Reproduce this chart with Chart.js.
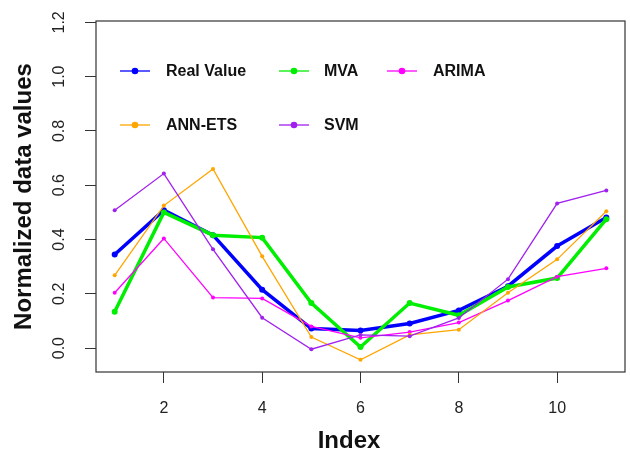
<!DOCTYPE html>
<html>
<head>
<meta charset="utf-8">
<script src="https://cdn.jsdelivr.net/npm/chart.js@4/dist/chart.umd.min.js"></script>
<style>
  html, body { margin: 0; padding: 0; background: #fff; }
  #wrap { width: 630px; height: 452px; }
</style>
</head>
<body>
<div id="wrap"><canvas id="chart"></canvas></div>
<script>
// data
const index = [1, 2, 3, 4, 5, 6, 7, 8, 9, 10, 11];
const realValue = [0.345, 0.508, 0.416, 0.215, 0.072, 0.065, 0.091, 0.139, 0.228, 0.376, 0.481];
const mva = [0.134, 0.500, 0.416, 0.407, 0.166, 0.004, 0.166, 0.121, 0.225, 0.258, 0.475];
const arima = [0.204, 0.404, 0.186, 0.183, 0.080, 0.038, 0.059, 0.094, 0.175, 0.263, 0.294];
const annEts = [0.268, 0.525, 0.660, 0.338, 0.041, -0.043, 0.049, 0.068, 0.204, 0.327, 0.504];
const svm = [0.508, 0.643, 0.364, 0.112, -0.004, 0.049, 0.044, 0.111, 0.254, 0.533, 0.581];

const xTicks = [2, 4, 6, 8, 10];
const yTicks = [0, 0.2, 0.4, 0.6, 0.8, 1.0, 1.2];
const yTickLabels = ['0.0', '0.2', '0.4', '0.6', '0.8', '1.0', '1.2'];

const FONT = '"Liberation Sans", Arial, sans-serif';
const AXIS_COL = '#333';

const series = [
    { label: 'Real Value', data: realValue, color: '#0000FF', width: 3.5, radius: 3 },
    { label: 'MVA', data: mva, color: '#00EE00', width: 3.5, radius: 3 },
    { label: 'ARIMA', data: arima, color: '#FF00FF', width: 1.3, radius: 2 },
    { label: 'ANN-ETS', data: annEts, color: '#FFA500', width: 1.3, radius: 2 },
    { label: 'SVM', data: svm, color: '#A020F0', width: 1.3, radius: 2 }
];

// legend slots (row, column) inside the plot, like R's legend(ncol=3)
const legendRows = [71, 125];
const legendCols = [{ sym: 120, text: 166 }, { sym: 279, text: 324 }, { sym: 387, text: 433 }];

const rFrame = {
    id: 'rFrame',
    afterDraw(chart) {
        const { ctx, chartArea: a, scales } = chart;
        ctx.save();
        // box around plot
        ctx.strokeStyle = AXIS_COL;
        ctx.lineWidth = 1.2;
        ctx.strokeRect(a.left, a.top, a.right - a.left, a.bottom - a.top);

        ctx.fillStyle = '#222';
        ctx.font = '16px ' + FONT;
        // x tick labels
        ctx.textAlign = 'center';
        ctx.textBaseline = 'alphabetic';
        xTicks.forEach(v => {
            ctx.fillText(String(v), scales.x.getPixelForValue(v), 413);
        });
        // y tick labels, rotated like R's default las=0
        yTicks.forEach((v, i) => {
            ctx.save();
            ctx.translate(63.5, scales.y.getPixelForValue(v));
            ctx.rotate(-Math.PI / 2);
            ctx.fillText(yTickLabels[i], 0, 0);
            ctx.restore();
        });

        // axis titles
        ctx.fillStyle = '#111';
        ctx.font = 'bold 24px ' + FONT;
        ctx.fillText('Index', 349, 448);
        ctx.save();
        ctx.translate(31, (a.top + a.bottom) / 2);
        ctx.rotate(-Math.PI / 2);
        ctx.fillText('Normalized data values', 0, 0);
        ctx.restore();

        // legend
        ctx.font = 'bold 16px ' + FONT;
        ctx.textAlign = 'left';
        ctx.textBaseline = 'middle';
        series.forEach((s, i) => {
            const y = legendRows[Math.floor(i / 3)];
            const col = legendCols[i % 3];
            ctx.strokeStyle = s.color;
            ctx.lineWidth = 1.3;
            ctx.beginPath();
            ctx.moveTo(col.sym, y);
            ctx.lineTo(col.sym + 30, y);
            ctx.stroke();
            ctx.fillStyle = s.color;
            ctx.beginPath();
            ctx.arc(col.sym + 15, y, 3.3, 0, Math.PI * 2);
            ctx.fill();
            ctx.fillStyle = '#111';
            ctx.fillText(s.label, col.text, y + 1);
        });
        ctx.restore();
    }
};

new Chart(document.getElementById('chart'), {
    type: 'line',
    data: {
        datasets: series.map((s, i) => ({
            label: s.label,
            data: s.data.map((v, j) => ({ x: index[j], y: v })),
            borderColor: s.color,
            backgroundColor: s.color,
            borderWidth: s.width,
            pointRadius: s.radius,
            pointBorderWidth: 0,
            pointHoverRadius: s.radius,
            tension: 0,
            fill: false,
            order: series.length - i
        }))
    },
    options: {
        responsive: true,
        maintainAspectRatio: false,
        animation: false,
        devicePixelRatio: 1,
        layout: { padding: { left: 85, top: 21, right: 5, bottom: 69 } },
        plugins: { legend: { display: false }, tooltip: { enabled: false } },
        scales: {
            x: {
                type: 'linear',
                min: 0.62,
                max: 11.38,
                afterBuildTicks: scale => { scale.ticks = xTicks.map(v => ({ value: v })); },
                grid: { drawOnChartArea: false, drawTicks: true, tickLength: 11, color: AXIS_COL, lineWidth: 1 },
                border: { display: false },
                ticks: { display: false }
            },
            y: {
                type: 'linear',
                min: -0.088,
                max: 1.205,
                afterBuildTicks: scale => { scale.ticks = yTicks.map(v => ({ value: v })); },
                grid: { drawOnChartArea: false, drawTicks: true, tickLength: 11, color: AXIS_COL, lineWidth: 1 },
                border: { display: false },
                ticks: { display: false }
            }
        }
    },
    plugins: [rFrame]
});
</script>
</body>
</html>
